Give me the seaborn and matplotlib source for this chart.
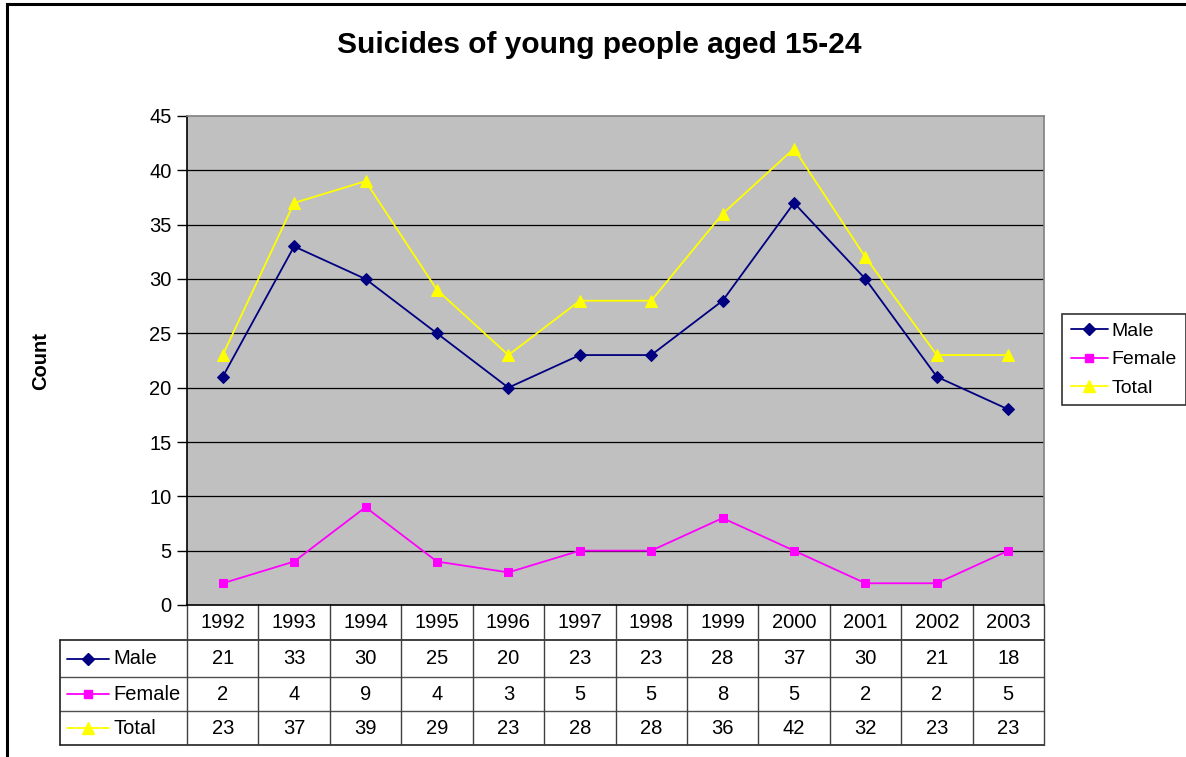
import numpy as np
import pandas as pd
import matplotlib
matplotlib.use("Agg")
import matplotlib.pyplot as plt
import matplotlib.transforms as mtransforms
from matplotlib.lines import Line2D
from matplotlib.patches import Rectangle
import seaborn as sns

YEARS  = ["1992", "1993", "1994", "1995", "1996", "1997",
          "1998", "1999", "2000", "2001", "2002", "2003"]
MALE   = [21, 33, 30, 25, 20, 23, 23, 28, 37, 30, 21, 18]
FEMALE = [2, 4, 9, 4, 3, 5, 5, 8, 5, 2, 2, 5]
TOTAL  = [23, 37, 39, 29, 23, 28, 28, 36, 42, 32, 23, 23]
SERIES = ["Male", "Female", "Total"]
COLORS = {"Male": "#000080", "Female": "#FF00FF", "Total": "#FFFF00"}
MARKERS = {"Male": "D", "Female": "s", "Total": "^"}
MSIZE   = {"Male": 6.5, "Female": 6, "Total": 8}
FS = 14.5

sns.set_style("white")
plt.rcParams["font.family"] = ["Liberation Sans", "DejaVu Sans"]
plt.rcParams["text.color"] = "black"
plt.rcParams["axes.labelcolor"] = "black"
plt.rcParams["ytick.color"] = "black"
plt.rcParams["xtick.color"] = "black"

W, H = 1186, 757
fig = plt.figure(figsize=(W / 100, H / 100), dpi=100)
fig.patch.set_facecolor("white")

# outer chart frame (cut at right and bottom like the original)
fig.add_artist(Rectangle((7 / W, -0.05), 1.1, 1 - 4 / H + 0.05, transform=fig.transFigure,
                         fill=False, edgecolor="black", linewidth=2.2))

# plot area in pixels: x 187-1044, y 116-605
ax = fig.add_axes([187 / W, 152 / H, 857 / W, 489 / H])
ax.set_facecolor("#C0C0C0")

df = pd.DataFrame({"Year": YEARS * 3,
                   "idx": list(range(len(YEARS))) * 3,
                   "Series": np.repeat(SERIES, len(YEARS)),
                   "Count": MALE + FEMALE + TOTAL})

for s in SERIES:
    sub = df[df["Series"] == s]
    sns.lineplot(data=sub, x="idx", y="Count", ax=ax, color=COLORS[s],
                 marker=MARKERS[s], markersize=MSIZE[s], markeredgecolor=COLORS[s],
                 linewidth=1.3, label=s, legend=False, zorder=3)

ax.set_xlim(-0.5, len(YEARS) - 0.5)
ax.set_ylim(0, 45)
ax.set_yticks(range(0, 46, 5))
ax.set_xticks([])
ax.set_xlabel("")
ax.set_ylabel("Count", fontsize=FS, fontweight="bold")
ax.yaxis.set_label_coords((50 - 187) / 857, (605 - 361) / 489)
ax.tick_params(axis="y", labelsize=FS, length=7, width=1, color="black",
               left=True, pad=4)
for y in range(5, 45, 5):
    ax.axhline(y, color="black", linewidth=0.9, zorder=1)
ax.spines["top"].set_color("#808080")
ax.spines["right"].set_color("#808080")
ax.spines["left"].set_color("black")
ax.spines["bottom"].set_color("black")
for sp in ax.spines.values():
    sp.set_linewidth(1.2)

fig.suptitle("Suicides of young people aged 15-24", fontsize=21.5, fontweight="bold",
             x=599 / W, y=1 - 45 / H, va="center")

# data table below the plot
trans = mtransforms.blended_transform_factory(ax.transData, ax.transAxes)
px_per_unit = 857 / len(YEARS)
def ya(ypx):
    return (605 - ypx) / 489
rows_px = [605, 640, 677, 711, 745]
x_left = -0.5 - (187 - 60) / px_per_unit
x_right = len(YEARS) - 0.5
lc = "#202020"
# horizontal lines
ax.add_line(Line2D([x_left, x_right], [ya(640)] * 2, transform=trans, color=lc, lw=1.2, clip_on=False))
for yp in [677, 711]:
    ax.add_line(Line2D([x_left, x_right], [ya(yp)] * 2, transform=trans, color="#505050", lw=1, clip_on=False))
ax.add_line(Line2D([x_left, x_right], [ya(745)] * 2, transform=trans, color=lc, lw=1.2, clip_on=False))
# vertical lines
ax.add_line(Line2D([x_left, x_left], [ya(640), ya(745)], transform=trans, color=lc, lw=1.2, clip_on=False))
for i in range(len(YEARS) + 1):
    xv = i - 0.5
    ax.add_line(Line2D([xv, xv], [0, ya(745)], transform=trans, color="#404040", lw=1, clip_on=False))

# header years
for i, yr in enumerate(YEARS):
    ax.text(i, ya(622.5), yr, transform=trans, ha="center", va="center", fontsize=FS)

row_vals = {"Male": MALE, "Female": FEMALE, "Total": TOTAL}
for r, s in enumerate(SERIES):
    yc = ya((rows_px[r + 1] + rows_px[r + 2]) / 2)
    for i, v in enumerate(row_vals[s]):
        ax.text(i, yc, str(v), transform=trans, ha="center", va="center", fontsize=FS)
    x0 = x_left + (67 - 60) / px_per_unit
    x1 = x_left + (109 - 60) / px_per_unit
    ax.add_line(Line2D([x0, x1], [yc, yc], transform=trans, color=COLORS[s], lw=1.3, clip_on=False))
    ax.add_line(Line2D([(x0 + x1) / 2], [yc], transform=trans, color=COLORS[s], marker=MARKERS[s],
                       markersize=MSIZE[s], markeredgecolor=COLORS[s], linestyle="none", clip_on=False))
    ax.text(x_left + (113 - 60) / px_per_unit, yc, s, transform=trans, ha="left", va="center",
            fontsize=FS)

# legend at right
handles = [Line2D([], [], color=COLORS[s], marker=MARKERS[s], markersize=MSIZE[s],
                  markeredgecolor=COLORS[s], lw=1.3) for s in SERIES]
leg = fig.legend(handles, SERIES, loc="center left", bbox_to_anchor=(1062 / W, 1 - 359.5 / H),
                 frameon=True, fancybox=False, edgecolor="black", fontsize=14,
                 handlelength=1.9, handletextpad=0.2, borderpad=0.45, labelspacing=0.55,
                 borderaxespad=0)
leg.get_frame().set_linewidth(1.2)

fig.savefig("out.png", dpi=100)
